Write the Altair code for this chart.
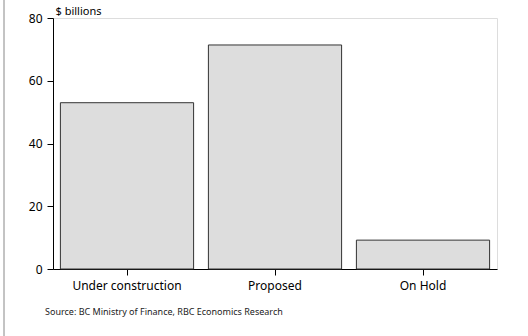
import altair as alt
import pandas as pd

# Capital projects by status, $ billions
categories = ["Under construction", "Proposed", "On Hold"]
values = [53.0, 71.4, 9.2]

source_note = "Source: BC Ministry of Finance, RBC Economics Research"
font = "Noto Sans"

df = pd.DataFrame({"status": categories, "amount": values})

bars = alt.Chart(df).mark_bar(
    fill="#dddddd", stroke="#333333", strokeWidth=1
).encode(
    x=alt.X(
        "status:N",
        sort=categories,
        scale=alt.Scale(paddingInner=0.1, paddingOuter=0.05),
        axis=alt.Axis(
            title=None, labelAngle=0, labelFontSize=12, labelPadding=5,
            tickSize=6, labelColor="#000000", domainColor="#000000",
            tickColor="#000000",
        ),
    ),
    y=alt.Y(
        "amount:Q",
        scale=alt.Scale(domain=[0, 80]),
        axis=alt.Axis(
            values=[0, 20, 40, 60, 80], grid=False, tickSize=6,
            labelFontSize=12, labelPadding=5, labelColor="#000000",
            domainColor="#000000", tickColor="#000000",
            title="$ billions", titleAngle=0, titleAlign="left",
            titleBaseline="bottom", titleX=2, titleY=-2,
            titleFontSize=11, titleFontWeight="normal", titleColor="#000000",
        ),
    ),
)

note = alt.Chart(alt.Data(values=[{}])).mark_text(
    text=source_note, align="left", baseline="middle",
    fontSize=9, font=font, color="#222222",
).encode(x=alt.value(-8), y=alt.value(294))

frame_left = alt.Chart(alt.Data(values=[{}])).mark_rule(
    color="#888888", strokeWidth=1
).encode(x=alt.value(-49), y=alt.value(-18), y2=alt.value(318))

chart = alt.layer(bars, note, frame_left).properties(
    width=444, height=251,
    autosize=alt.AutoSizeParams(type="none"),
    padding={"left": 53, "top": 18, "right": 31, "bottom": 67},
    background="#ffffff",
).configure_view(
    stroke="#333333", strokeWidth=1
).configure(font=font)

chart.save("out.html", embed_options={"renderer": "svg", "actions": False})
